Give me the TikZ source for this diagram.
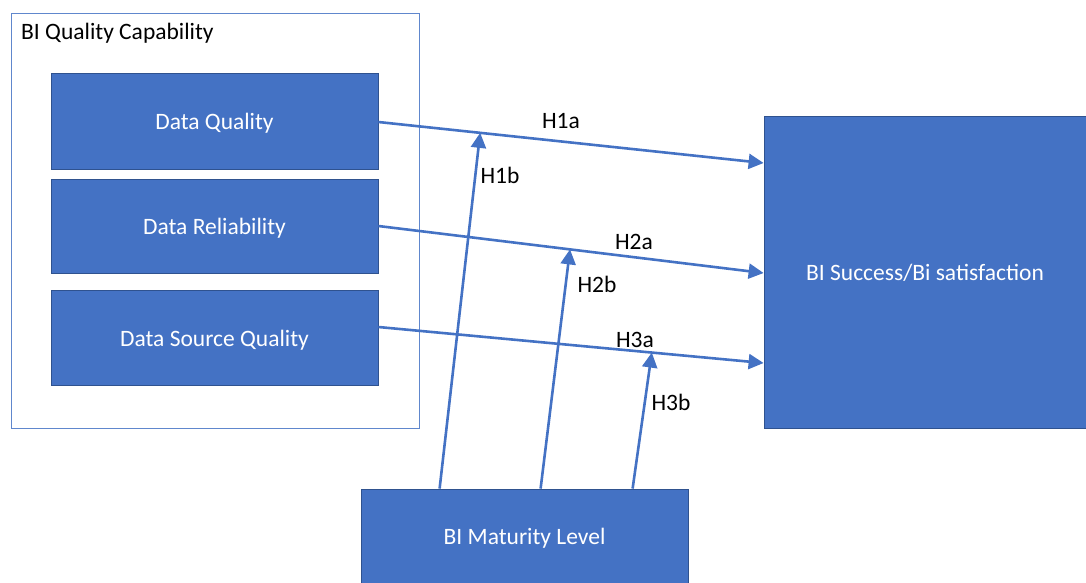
\documentclass[tikz,border=0pt]{standalone}
\usepackage{fontspec}
\setmainfont{Carlito}
\usetikzlibrary{arrows.meta,calc}
\definecolor{boxblue}{HTML}{4472C4}
\definecolor{edgeblue}{HTML}{2F528F}

\begin{document}
\begin{tikzpicture}[x=1pt, y=-1pt,
    bluebox/.style={draw=edgeblue, fill=boxblue, text=white, line width=0.8pt, inner sep=0pt,
        text height=17pt, text depth=0pt},
    hyp/.style={draw=boxblue, line width=2.6pt, -{Triangle[length=15pt,width=15pt]}},
    hlabel/.style={text=black, inner sep=0pt}]
    \useasboundingbox (0,0) rectangle (1086,582);
    \fontsize{23.5}{28}\selectfont
    \draw[boxblue!85, line width=1pt] (11,13) rectangle (419,428);
    \node[anchor=west, inner sep=0pt] (cap) at (21,33) {BI Quality Capability};
    \node[bluebox, minimum width=327, minimum height=96] (dq) at (214.5,121) {Data Quality};
    \node[bluebox, minimum width=327, minimum height=94] (dr) at (214.5,226) {Data Reliability};
    \node[bluebox, minimum width=327, minimum height=95] (ds) at (214.5,337.5) {Data Source Quality};
    \node[bluebox, minimum width=322, minimum height=312] (succ) at (925,272) {BI Success/Bi satisfaction};
    \node[bluebox, minimum width=327, minimum height=94] (mat) at (524.5,536) {BI Maturity Level};
    \coordinate (a1) at ($(dq.east)+(0,1)$);
    \coordinate (a2) at ($(dr.east)+(0,0)$);
    \coordinate (a3) at ($(ds.east)+(0,-10.5)$);
    \coordinate (e1) at ($(succ.west)+(0,-109)$);
    \coordinate (e2) at ($(succ.west)+(0,1)$);
    \coordinate (e3) at ($(succ.west)+(0,91)$);
    \draw[hyp] (a1) -- (e1);
    \draw[hyp] (a2) -- (e2);
    \draw[hyp] (a3) -- (e3);
    \coordinate (m1) at ($(a1)!0.2642!(e1)$);
    \coordinate (m2) at ($(a2)!0.4974!(e2)$);
    \coordinate (m3) at ($(a3)!0.7098!(e3)$);
    \draw[hyp] ($(mat.north west)+(79,0)$) -- (m1);
    \draw[hyp] ($(mat.north west)+(180,0)$) -- (m2);
    \draw[hyp] ($(mat.north west)+(272,0)$) -- (m3);
    \node[hlabel] (h1a) at (561,121) {H1a};
    \node[hlabel] (h1b) at (500,175) {H1b};
    \node[hlabel] (h2a) at (634,242) {H2a};
    \node[hlabel] (h2b) at (597,284) {H2b};
    \node[hlabel] (h3a) at (635,340) {H3a};
    \node[hlabel] (h3b) at (671,402) {H3b};
\end{tikzpicture}
\end{document}
